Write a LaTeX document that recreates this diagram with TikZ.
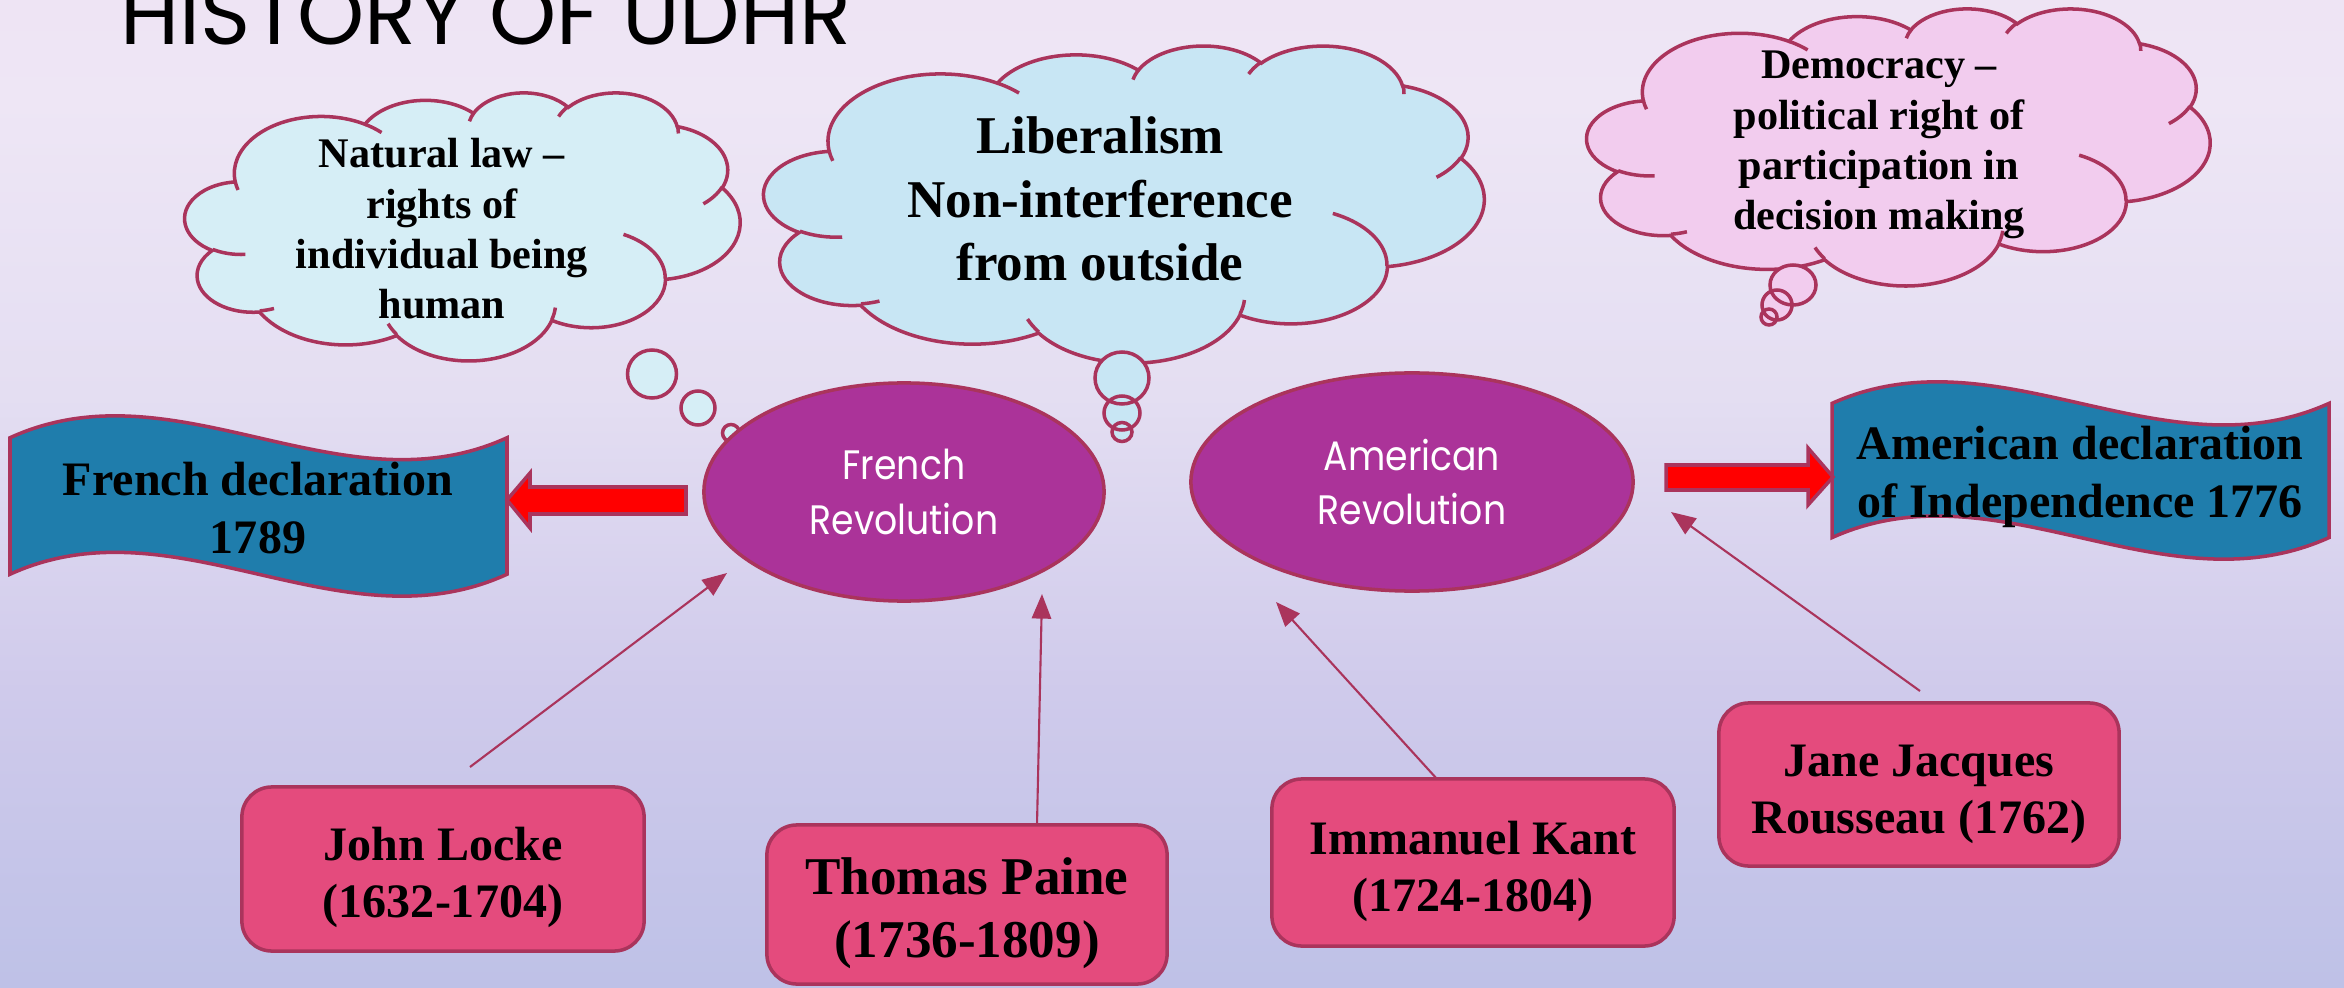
\documentclass[tikz,border=0pt]{standalone}
\usepackage{fontspec}
\setmainfont{Liberation Serif}
\newfontfamily\popfont{Poppins}
\newfontfamily\popnarrow{Poppins}[FakeStretch=0.88]
\usetikzlibrary{arrows.meta,shapes.geometric}

\definecolor{lineC}{RGB}{170,52,92}
\definecolor{ellC}{RGB}{171,51,153}
\definecolor{boxC}{RGB}{228,75,125}
\definecolor{banC}{RGB}{31,125,172}
\definecolor{cloudA}{RGB}{214,238,246}
\definecolor{cloudB}{RGB}{200,230,244}
\definecolor{cloudC}{RGB}{242,204,238}
\definecolor{redC}{RGB}{255,0,0}
\definecolor{bg0}{RGB}{158,178,222}
\definecolor{bg1}{RGB}{170,185,227}
\definecolor{bg2}{RGB}{190,193,231}
\definecolor{bg3}{RGB}{207,202,235}
\definecolor{bg4}{RGB}{228,222,242}
\definecolor{bg5}{RGB}{238,230,245}
\definecolor{bg6}{RGB}{237,217,240}
\pgfdeclareverticalshading{bgshade}{100bp}{color(0bp)=(bg0); color(10bp)=(bg1); color(25bp)=(bg2); color(40bp)=(bg3); color(55bp)=(bg4); color(70bp)=(bg5); color(100bp)=(bg6)}

\newcommand\setarc[5]{%
  \pgfmathsetmacro\tmpr{(#2/#3)*\cloudr}%
  \pgfmathsetmacro\tmps{atan2(\tmpr*sin(#4),cos(#4))}%
  \pgfmathsetmacro\tmpe{atan2(\tmpr*sin(#4+#5),cos(#4+#5))}%
  \pgfmathsetmacro\tmpd{(\tmpe)-(\tmps)}%
  \pgfmathsetmacro\tmpd{(\tmpd)-360*round(((\tmpd)-(#5))/360)}%
  \expandafter\let\csname arcS#1\endcsname\tmps
  \expandafter\let\csname arcD#1\endcsname\tmpd
}
\newcommand\oarc[3]{arc[start angle=\csname arcS#1\endcsname, delta angle=\csname arcD#1\endcsname, x radius=#2/100, y radius=#3/100]}
\newcommand\cloudshape[5]{%
  \def\cloudr{1}%
  \setarc{a}{6753}{9190}{-190.48748}{123.78053}%
  \setarc{b}{5333}{7267}{-144.10238}{89.94523}%
  \setarc{c}{4365}{5945}{-145.80792}{99.72302}%
  \setarc{d}{4857}{6595}{-130.98607}{117.24173}%
  \setarc{e}{5333}{7273}{-78.70888}{109.02692}%
  \setarc{f}{6775}{9220}{-46.26725}{130.269}%
  \setarc{g}{5785}{7867}{0.62502}{114.03333}%
  \setarc{h}{6752}{9215}{22.4516}{115.17255}%
  \setarc{i}{7720}{10543}{66.24263}{75.71102}%
  \setarc{j}{4360}{5918}{-274.94208}{146.73557}%
  \setarc{k}{4345}{5945}{-246.8285}{152.51885}%
  \setarc{A}{4345}{5945}{86.742}{26.4295}%
  \setarc{B}{4360}{5918}{73.61047}{11.44747}%
  \setarc{C}{6752}{9215}{137.62415}{14.0811}%
  \setarc{D}{6752}{9215}{6.45327}{15.99835}%
  \setarc{E}{5785}{7867}{-70.29235}{70.91737}%
  \setarc{F}{5333}{7273}{30.31803}{27.7515}%
  \setarc{G}{4857}{6595}{-13.74433}{14.85342}%
  \setarc{H}{4857}{6595}{-149.18145}{18.19537}%
  \setarc{I}{4365}{5945}{-163.49427}{17.68635}%
  \setarc{J}{6753}{9190}{-66.70695}{12.31935}%
  \setarc{K}{6753}{9190}{157.65435}{11.85817}%
  \begin{scope}[shift={(#1,#2)},x=#3*0.01cm/432,y=-#4*0.01cm/432]
    \filldraw[cloudline,fill=#5] (39.00,143.70)
      \oarc{a}{6753}{9190} \oarc{b}{5333}{7267} \oarc{c}{4365}{5945}
      \oarc{d}{4857}{6595} \oarc{e}{5333}{7273} \oarc{f}{6775}{9220}
      \oarc{g}{5785}{7867} \oarc{h}{6752}{9215} \oarc{i}{7720}{10543}
      \oarc{j}{4360}{5918} \oarc{k}{4345}{5945} -- cycle;
    \draw[cloudline]
      (46.93,261.77) \oarc{A}{4345}{5945}
      (69.28,348.99) \oarc{B}{4360}{5918}
      (164.78,390.90) \oarc{C}{6752}{9215}
      (288.27,347.51) \oarc{D}{6752}{9215}
      (341.29,229.54) \oarc{E}{5785}{7867}
      (417.98,153.54) \oarc{F}{5333}{7273}
      (383.24,54.26) \oarc{G}{4857}{6595}
      (290.78,39.52) \oarc{H}{4857}{6595}
      (221.41,47.20) \oarc{I}{4365}{5945}
      (140.00,51.92) \oarc{J}{6753}{9190}
      (41.27,157.89) \oarc{K}{6753}{9190};
  \end{scope}
}
\newcommand\lift[1]{\rule{0pt}{#1}}

\begin{document}
\begin{tikzpicture}[x=0.01cm,y=-0.01cm,
  cloudline/.style={draw=lineC,line width=1pt},
  bubble/.style={draw=lineC,line width=1pt},
  banner/.style={draw=lineC,line width=1pt,fill=banC},
  blockarrow/.style={draw=lineC,line width=1pt,fill=redC},
  revol/.style={ellipse,draw=lineC,line width=1pt,fill=ellC,inner sep=0pt,text=white,align=center,
     font=\popnarrow\fontsize{11.7}{15.6}\selectfont},
  person/.style={rectangle,rounded corners=0.3cm,draw=lineC,line width=1pt,fill=boxC,inner sep=0pt,align=center,
     font=\bfseries\fontsize{13.66}{16.3}\selectfont},
  cloudtext/.style={align=center,inner sep=0pt,font=\bfseries\fontsize{12}{14.3}\selectfont},
  bantext/.style={align=center,inner sep=0pt,font=\bfseries\fontsize{13.66}{16.5}\selectfont},
  conn/.style={draw=lineC,line width=0.6pt,-{Triangle[length=7pt,width=5.5pt]}}]
\useasboundingbox (0,0) rectangle (2344,988);
\clip (0,0) rectangle (2344,988);
\shade[shading=bgshade] (0,0) rectangle (2344,988);

% title
\node[anchor=base west,inner sep=0pt,font=\popfont\fontsize{24.3}{28}\selectfont] (title) at (120,45) {HISTORY OF UDHR};

% clouds
\cloudshape{185}{92}{555}{268}{cloudA}
\cloudshape{764}{45}{720}{317}{cloudB}
\cloudshape{1587}{8}{623}{277}{cloudC}

% cloud tails
\fill[cloudA] (652,374) ellipse [x radius=24.5,y radius=24] (698,408) ellipse [x radius=17,y radius=17] (731,433) ellipse [x radius=8.5,y radius=8.5];
\draw[bubble] (652,374) ellipse [x radius=24.5,y radius=24] (698,408) ellipse [x radius=17,y radius=17] (731,433) ellipse [x radius=8.5,y radius=8.5];
\fill[cloudB] (1122,378) ellipse [x radius=27,y radius=26] (1122,413) ellipse [x radius=18,y radius=17] (1122,432) ellipse [x radius=10,y radius=9.5];
\draw[bubble] (1122,378) ellipse [x radius=27,y radius=26] (1122,413) ellipse [x radius=18,y radius=17] (1122,432) ellipse [x radius=10,y radius=9.5];
\fill[cloudC] (1793,285) ellipse [x radius=23,y radius=20] (1777,305) ellipse [x radius=15,y radius=15] (1769,317) ellipse [x radius=8,y radius=8];
\draw[bubble] (1793,285) ellipse [x radius=23,y radius=20] (1777,305) ellipse [x radius=15,y radius=15] (1769,317) ellipse [x radius=8,y radius=8];

\node[cloudtext] (natlaw) at (442,229) {Natural law –\\rights of\\individual being\\human};
\node[cloudtext,font=\bfseries\fontsize{15.1}{18.05}\selectfont] (liberal) at (1100,199) {Liberalism\\Non-interference\\from outside};
\node[cloudtext] (democ) at (1879,145) {Democracy –\\political right of\\participation in\\decision making};

% banners
\draw[banner] (10,437.75) .. controls (175.67,361.9) and (341.33,513.6) .. (507,437.75)
  -- (507,574.25) .. controls (341.33,650.1) and (175.67,498.4) .. (10,574.25) -- cycle;
\node[bantext] (frdecl) at (258,508) {French declaration\\1789};
\draw[banner] (1832,403.4) .. controls (1997.67,328.7) and (2163.33,478.1) .. (2329,403.4)
  -- (2329,537.6) .. controls (2163.33,612.3) and (1997.67,462.9) .. (1832,537.6) -- cycle;
\node[bantext] (amdecl) at (2080,477) {American declaration\\of Independence 1776};

% block arrows
\draw[blockarrow] (686,487) -- (530,487) -- (530,473) -- (507,500) -- (530,528) -- (530,514) -- (686,514) -- cycle;
\draw[blockarrow] (1666,465) -- (1808,465) -- (1808,448) -- (1833,477) -- (1808,505) -- (1808,490) -- (1666,490) -- cycle;

% revolutions
\node[revol,minimum width=4cm,minimum height=2.18cm] (frrev) at (904,492) {French\\Revolution};
\node[revol,minimum width=4.42cm,minimum height=2.18cm] (amrev) at (1412,482) {American\\Revolution};

% people
\node[person,minimum width=4.02cm,minimum height=1.64cm] (locke) at (443,869) {\lift{14.4pt}John Locke\\(1632-1704)};
\node[person,minimum width=4.0cm,minimum height=1.59cm,font=\bfseries\fontsize{15.1}{18}\selectfont] (paine) at (967,904.5) {\lift{15.6pt}Thomas Paine\\(1736-1809)};
\node[person,minimum width=4.02cm,minimum height=1.67cm] (kant) at (1473,862.5) {\lift{14.4pt}Immanuel Kant\\(1724-1804)};
\node[person,minimum width=4.0cm,minimum height=1.63cm] (rousseau) at (1919,784.5) {\lift{14.4pt}Jane Jacques\\Rousseau (1762)};

% connectors
\coordinate (lockeS) at (470,767);
\coordinate (lockeE) at (727,573);
\coordinate (paineS) at (1037,825);
\coordinate (paineE) at (1042,594);
\coordinate (kantS) at (1437,779);
\coordinate (kantE) at (1276,602);
\coordinate (rousS) at (1920,691);
\coordinate (rousE) at (1671,512);
\draw[conn] (lockeS) -- (lockeE);
\draw[conn] (paineS) -- (paineE);
\draw[conn] (kantS) -- (kantE);
\draw[conn] (rousS) -- (rousE);
\end{tikzpicture}
\end{document}
